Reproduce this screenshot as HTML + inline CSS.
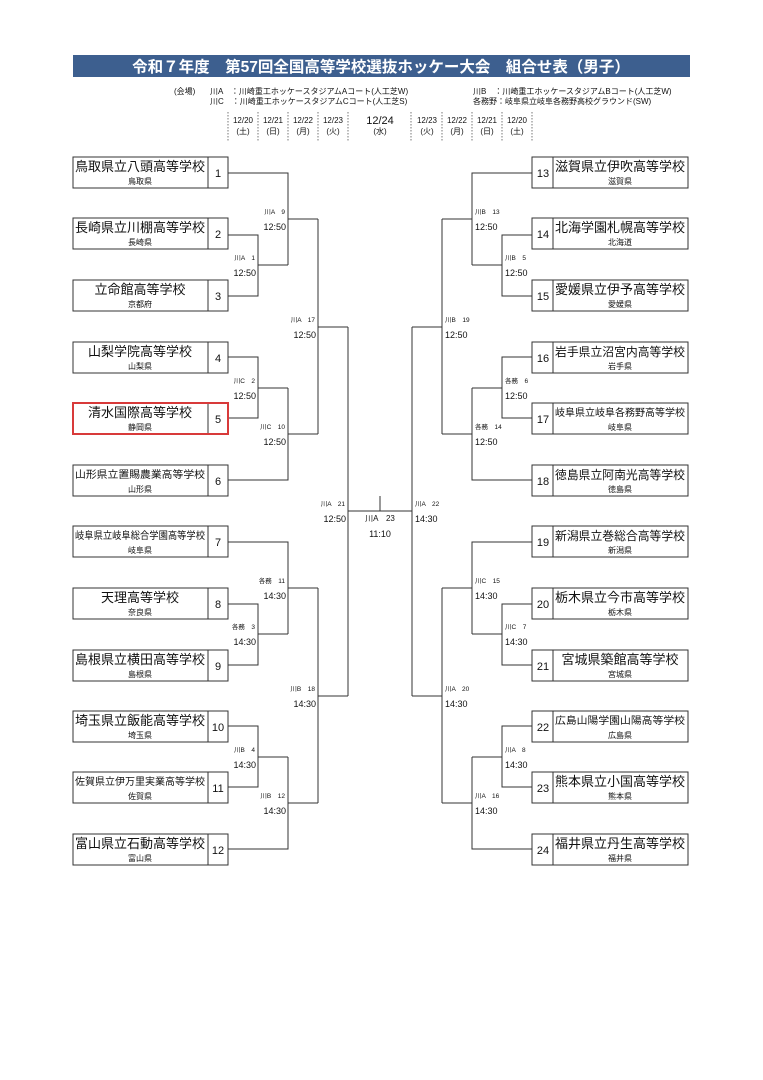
<!DOCTYPE html>
<html><head><meta charset="utf-8"><style>
html,body{margin:0;padding:0;background:#fff}
svg{display:block}
text{font-family:"Liberation Sans","Noto Sans CJK JP",sans-serif;fill:#111}
.n{font-size:13px;text-anchor:middle}
.n11{font-size:12px;text-anchor:middle}
.ns{font-size:10px;text-anchor:middle}
.p{font-size:8px;text-anchor:middle}
.num{font-size:11px;text-anchor:middle}
.lb{font-size:6.5px}
.tm{font-size:9px}
.L{text-anchor:end}
.d{font-size:8px;text-anchor:middle}
</style></head><body>
<svg width="763" height="1080" viewBox="0 0 763 1080" xmlns="http://www.w3.org/2000/svg">
<rect x="73" y="55" width="617" height="22" fill="#3d5f8f"/>
<text x="381" y="72" style="font-size:15.5px;font-weight:bold;fill:#fff;text-anchor:middle">令和７年度　第57回全国高等学校選抜ホッケー大会　組合せ表（男子）</text>
<g style="font-size:8px">
<text x="174" y="94">(会場)</text>
<text x="210" y="94">川A　：川崎重工ホッケースタジアムAコート(人工芝W)</text>
<text x="210" y="104">川C　：川崎重工ホッケースタジアムCコート(人工芝S)</text>
<text x="473" y="94">川B　：川崎重工ホッケースタジアムBコート(人工芝W)</text>
<text x="473" y="104">各務野：岐阜県立岐阜各務野高校グラウンド(SW)</text>
</g>
<g stroke="#555" stroke-width="0.8" stroke-dasharray="1.5,1.5">
<line x1="228" y1="112" x2="228" y2="142"/><line x1="258" y1="112" x2="258" y2="142"/><line x1="288" y1="112" x2="288" y2="142"/><line x1="318" y1="112" x2="318" y2="142"/><line x1="348" y1="112" x2="348" y2="142"/>
<line x1="411" y1="112" x2="411" y2="142"/><line x1="442" y1="112" x2="442" y2="142"/><line x1="472" y1="112" x2="472" y2="142"/><line x1="502" y1="112" x2="502" y2="142"/><line x1="532" y1="112" x2="532" y2="142"/>
</g>
<g class="d">
<text class="d" x="243" y="123">12/20</text><text class="d" x="243" y="134">(土)</text>
<text class="d" x="273" y="123">12/21</text><text class="d" x="273" y="134">(日)</text>
<text class="d" x="303" y="123">12/22</text><text class="d" x="303" y="134">(月)</text>
<text class="d" x="333" y="123">12/23</text><text class="d" x="333" y="134">(火)</text>
<text x="380" y="124" style="font-size:11px;text-anchor:middle">12/24</text><text class="d" x="380" y="134">(水)</text>
<text class="d" x="427" y="123">12/23</text><text class="d" x="427" y="134">(火)</text>
<text class="d" x="457" y="123">12/22</text><text class="d" x="457" y="134">(月)</text>
<text class="d" x="487" y="123">12/21</text><text class="d" x="487" y="134">(日)</text>
<text class="d" x="517" y="123">12/20</text><text class="d" x="517" y="134">(土)</text>
</g>

<defs>
<g id="half" fill="none" stroke="#333" stroke-width="1">
<path d="M228 173H288V265M228 235H258V296H228M258 265H288M288 219H318"/>
<path d="M228 357H258V418H228M258 388H288M288 388V480H228M288 434H318"/>
<path d="M318 219V434M318 327H348"/>
</g>
</defs>
<use href="#half"/>
<use href="#half" transform="translate(0,369)"/>
<use href="#half" transform="translate(760,0) scale(-1,1)"/>
<use href="#half" transform="translate(760,369) scale(-1,1)"/>
<path d="M348 327V696M348 511H412M412 327V696M380 496V511" fill="none" stroke="#333" stroke-width="1"/>

<g fill="none" stroke="#333" stroke-width="1">
<rect x="73" y="157" width="155" height="31"/><rect x="73" y="218" width="155" height="31"/><rect x="73" y="280" width="155" height="31"/>
<rect x="73" y="342" width="155" height="31"/><rect x="73" y="403" width="155" height="31"/><rect x="73" y="465" width="155" height="31"/>
<rect x="73" y="526" width="155" height="31"/><rect x="73" y="588" width="155" height="31"/><rect x="73" y="650" width="155" height="31"/>
<rect x="73" y="711" width="155" height="31"/><rect x="73" y="772" width="155" height="31"/><rect x="73" y="834" width="155" height="31"/>
<rect x="532" y="157" width="156" height="31"/><rect x="532" y="218" width="156" height="31"/><rect x="532" y="280" width="156" height="31"/>
<rect x="532" y="342" width="156" height="31"/><rect x="532" y="403" width="156" height="31"/><rect x="532" y="465" width="156" height="31"/>
<rect x="532" y="526" width="156" height="31"/><rect x="532" y="588" width="156" height="31"/><rect x="532" y="650" width="156" height="31"/>
<rect x="532" y="711" width="156" height="31"/><rect x="532" y="772" width="156" height="31"/><rect x="532" y="834" width="156" height="31"/>
<path d="M208 157v31M208 218v31M208 280v31M208 342v31M208 403v31M208 465v31M208 526v31M208 588v31M208 650v31M208 711v31M208 772v31M208 834v31"/>
<path d="M553 157v31M553 218v31M553 280v31M553 342v31M553 403v31M553 465v31M553 526v31M553 588v31M553 650v31M553 711v31M553 772v31M553 834v31"/>
</g>
<rect x="73" y="403" width="155" height="31" fill="none" stroke="#d83a3a" stroke-width="2"/>

<text class="n" x="140" y="171">鳥取県立八頭高等学校</text><text class="p" x="140" y="184">鳥取県</text>
<text class="n" x="140" y="232">長崎県立川棚高等学校</text><text class="p" x="140" y="245">長崎県</text>
<text class="n" x="140" y="294">立命館高等学校</text><text class="p" x="140" y="307">京都府</text>
<text class="n" x="140" y="356">山梨学院高等学校</text><text class="p" x="140" y="369">山梨県</text>
<text class="n" x="140" y="417">清水国際高等学校</text><text class="p" x="140" y="430">静岡県</text>
<text class="ns" x="140" y="478" textLength="130" lengthAdjust="spacingAndGlyphs">山形県立置賜農業高等学校</text><text class="p" x="140" y="492">山形県</text>
<text class="ns" x="140" y="539" textLength="130" lengthAdjust="spacingAndGlyphs">岐阜県立岐阜総合学園高等学校</text><text class="p" x="140" y="553">岐阜県</text>
<text class="n" x="140" y="602">天理高等学校</text><text class="p" x="140" y="615">奈良県</text>
<text class="n" x="140" y="664">島根県立横田高等学校</text><text class="p" x="140" y="677">島根県</text>
<text class="n" x="140" y="725">埼玉県立飯能高等学校</text><text class="p" x="140" y="738">埼玉県</text>
<text class="ns" x="140" y="785" textLength="130" lengthAdjust="spacingAndGlyphs">佐賀県立伊万里実業高等学校</text><text class="p" x="140" y="799">佐賀県</text>
<text class="n" x="140" y="848">富山県立石動高等学校</text><text class="p" x="140" y="861">富山県</text>
<text class="num" x="218" y="177">1</text><text class="num" x="218" y="238">2</text><text class="num" x="218" y="300">3</text>
<text class="num" x="218" y="362">4</text><text class="num" x="218" y="423">5</text><text class="num" x="218" y="485">6</text>
<text class="num" x="218" y="546">7</text><text class="num" x="218" y="608">8</text><text class="num" x="218" y="670">9</text>
<text class="num" x="218" y="731">10</text><text class="num" x="218" y="792">11</text><text class="num" x="218" y="854">12</text>

<text class="n" x="620" y="171">滋賀県立伊吹高等学校</text><text class="p" x="620" y="184">滋賀県</text>
<text class="n" x="620" y="232">北海学園札幌高等学校</text><text class="p" x="620" y="245">北海道</text>
<text class="n" x="620" y="294">愛媛県立伊予高等学校</text><text class="p" x="620" y="307">愛媛県</text>
<text class="n11" x="620" y="356" textLength="130" lengthAdjust="spacingAndGlyphs">岩手県立沼宮内高等学校</text><text class="p" x="620" y="369">岩手県</text>
<text class="ns" x="620" y="416" textLength="130" lengthAdjust="spacingAndGlyphs">岐阜県立岐阜各務野高等学校</text><text class="p" x="620" y="430">岐阜県</text>
<text class="n11" x="620" y="479" textLength="130" lengthAdjust="spacingAndGlyphs">徳島県立阿南光高等学校</text><text class="p" x="620" y="492">徳島県</text>
<text class="n11" x="620" y="540" textLength="130" lengthAdjust="spacingAndGlyphs">新潟県立巻総合高等学校</text><text class="p" x="620" y="553">新潟県</text>
<text class="n" x="620" y="602">栃木県立今市高等学校</text><text class="p" x="620" y="615">栃木県</text>
<text class="n" x="620" y="664">宮城県築館高等学校</text><text class="p" x="620" y="677">宮城県</text>
<text class="ns" x="620" y="724" textLength="130" lengthAdjust="spacingAndGlyphs">広島山陽学園山陽高等学校</text><text class="p" x="620" y="738">広島県</text>
<text class="n" x="620" y="786">熊本県立小国高等学校</text><text class="p" x="620" y="799">熊本県</text>
<text class="n" x="620" y="848">福井県立丹生高等学校</text><text class="p" x="620" y="861">福井県</text>
<text class="num" x="543" y="177">13</text><text class="num" x="543" y="238">14</text><text class="num" x="543" y="300">15</text>
<text class="num" x="543" y="362">16</text><text class="num" x="543" y="423">17</text><text class="num" x="543" y="485">18</text>
<text class="num" x="543" y="546">19</text><text class="num" x="543" y="608">20</text><text class="num" x="543" y="670">21</text>
<text class="num" x="543" y="731">22</text><text class="num" x="543" y="792">23</text><text class="num" x="543" y="854">24</text>

<text class="lb L" x="285" y="214">川A　9</text><text class="tm L" x="286" y="230">12:50</text>
<text class="lb L" x="255" y="260">川A　1</text><text class="tm L" x="256" y="276">12:50</text>
<text class="lb L" x="255" y="383">川C　2</text><text class="tm L" x="256" y="399">12:50</text>
<text class="lb L" x="285" y="429">川C　10</text><text class="tm L" x="286" y="445">12:50</text>
<text class="lb L" x="315" y="322">川A　17</text><text class="tm L" x="316" y="338">12:50</text>
<text class="lb L" x="345" y="506">川A　21</text><text class="tm L" x="346" y="522">12:50</text>
<text class="lb L" x="285" y="583">各務　11</text><text class="tm L" x="286" y="599">14:30</text>
<text class="lb L" x="255" y="629">各務　3</text><text class="tm L" x="256" y="645">14:30</text>
<text class="lb L" x="315" y="691">川B　18</text><text class="tm L" x="316" y="707">14:30</text>
<text class="lb L" x="255" y="752">川B　4</text><text class="tm L" x="256" y="768">14:30</text>
<text class="lb L" x="285" y="798">川B　12</text><text class="tm L" x="286" y="814">14:30</text>
<text x="380" y="521" style="font-size:8px;text-anchor:middle">川A　23</text>
<text class="tm" x="380" y="537" style="text-anchor:middle">11:10</text>
<text class="lb" x="475" y="214">川B　13</text><text class="tm" x="475" y="230">12:50</text>
<text class="lb" x="505" y="260">川B　5</text><text class="tm" x="505" y="276">12:50</text>
<text class="lb" x="505" y="383">各務　6</text><text class="tm" x="505" y="399">12:50</text>
<text class="lb" x="475" y="429">各務　14</text><text class="tm" x="475" y="445">12:50</text>
<text class="lb" x="445" y="322">川B　19</text><text class="tm" x="445" y="338">12:50</text>
<text class="lb" x="415" y="506">川A　22</text><text class="tm" x="415" y="522">14:30</text>
<text class="lb" x="475" y="583">川C　15</text><text class="tm" x="475" y="599">14:30</text>
<text class="lb" x="505" y="629">川C　7</text><text class="tm" x="505" y="645">14:30</text>
<text class="lb" x="445" y="691">川A　20</text><text class="tm" x="445" y="707">14:30</text>
<text class="lb" x="505" y="752">川A　8</text><text class="tm" x="505" y="768">14:30</text>
<text class="lb" x="475" y="798">川A　16</text><text class="tm" x="475" y="814">14:30</text>
</svg>
</body></html>
